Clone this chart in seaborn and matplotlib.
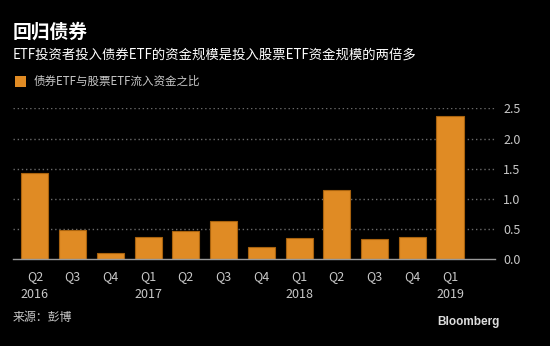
import matplotlib
matplotlib.use("Agg")
import matplotlib.pyplot as plt
import seaborn as sns
import pandas as pd

# Bond ETF inflows relative to equity ETF inflows, by quarter
periods = ["2016Q2", "2016Q3", "2016Q4", "2017Q1", "2017Q2", "2017Q3",
           "2017Q4", "2018Q1", "2018Q2", "2018Q3", "2018Q4", "2019Q1"]
quarters = ["Q2", "Q3", "Q4", "Q1", "Q2", "Q3", "Q4", "Q1", "Q2", "Q3", "Q4", "Q1"]
years = ["2016", "", "", "2017", "", "", "", "2018", "", "", "", "2019"]
ratio = [1.43, 0.485, 0.11, 0.37, 0.47, 0.63, 0.21, 0.35, 1.14, 0.33, 0.37, 2.37]
y_ticks = [0.0, 0.5, 1.0, 1.5, 2.0, 2.5]

title = "回归债券"
subtitle = "ETF投资者投入债券ETF的资金规模是投入股票ETF资金规模的两倍多"
legend_label = "债券ETF与股票ETF流入资金之比"
source = "来源：彭博"

BAR = "#E08B24"
EDGE = "#A8620E"
TXT = "#C8C8C8"

sns.set_theme(style="dark")
plt.rcParams["font.family"] = ["Noto Sans CJK SC", "DejaVu Sans"]

df = pd.DataFrame({"period": periods, "ratio": ratio})

fig = plt.figure(figsize=(5.5, 3.46), dpi=100, facecolor="black")
ax = fig.add_axes([13 / 550, 1 - 259.3 / 346, (495 - 13) / 550, (259.3 - 108.3) / 346])
ax.set_facecolor("black")

sns.barplot(data=df, x="period", y="ratio", order=periods, color=BAR,
            saturation=1, width=0.72, edgecolor=EDGE, linewidth=0.8,
            errorbar=None, ax=ax, zorder=3)

ax.set_xlim(-0.58, 12.19)
ax.set_ylim(0, 2.5)
ax.set_xlabel("")
ax.set_ylabel("")

for s in ["top", "right", "left"]:
    ax.spines[s].set_visible(False)
ax.spines["bottom"].set_color("#9a9a9a")
ax.spines["bottom"].set_linewidth(1.0)
ax.spines["bottom"].set_zorder(4)

ax.set_xticks(range(len(periods)))
ax.set_xticklabels([f"{q}\n{y}" for q, y in zip(quarters, years)])
ax.set_yticks(y_ticks)
ax.set_yticklabels([f"{v:.1f}" for v in y_ticks])
ax.yaxis.tick_right()
ax.tick_params(axis="y", length=0, pad=6, labelsize=9, labelcolor=TXT)
ax.tick_params(axis="x", length=4, width=0.8, color="#9a9a9a", direction="out",
               pad=4, labelsize=9, labelcolor=TXT)
for t in ax.get_xticklabels():
    t.set_linespacing(1.45)
    t.set_verticalalignment("top")

ax.grid(False)
for v in y_ticks[1:]:
    ax.axhline(v, color="#6a6a6a", linewidth=1.0, linestyle=(0, (1, 2)), zorder=1)

fig.text(13 / 550, 1 - 32 / 346, title, color="white", fontsize=13.5,
         fontweight="bold", va="center", ha="left")
fig.text(13 / 550, 1 - 55 / 346, subtitle, color="white", fontsize=9.6,
         va="center", ha="left")
fig.patches.append(plt.Rectangle((15 / 550, 1 - 87 / 346), 11 / 550, 11 / 346,
                                 transform=fig.transFigure, facecolor=BAR,
                                 edgecolor="none"))
fig.text(34 / 550, 1 - 81.5 / 346, legend_label, color=TXT, fontsize=8.3,
         va="center", ha="left")
fig.text(13 / 550, 1 - 317 / 346, source, color=TXT, fontsize=8.6,
         va="center", ha="left")
fig.text(500 / 550, 1 - 322 / 346, "Bloomberg", color="#dddddd", fontsize=8.5,
         fontweight="bold", family="Liberation Sans", va="center", ha="right")

fig.savefig("out.png", dpi=100, facecolor="black")
